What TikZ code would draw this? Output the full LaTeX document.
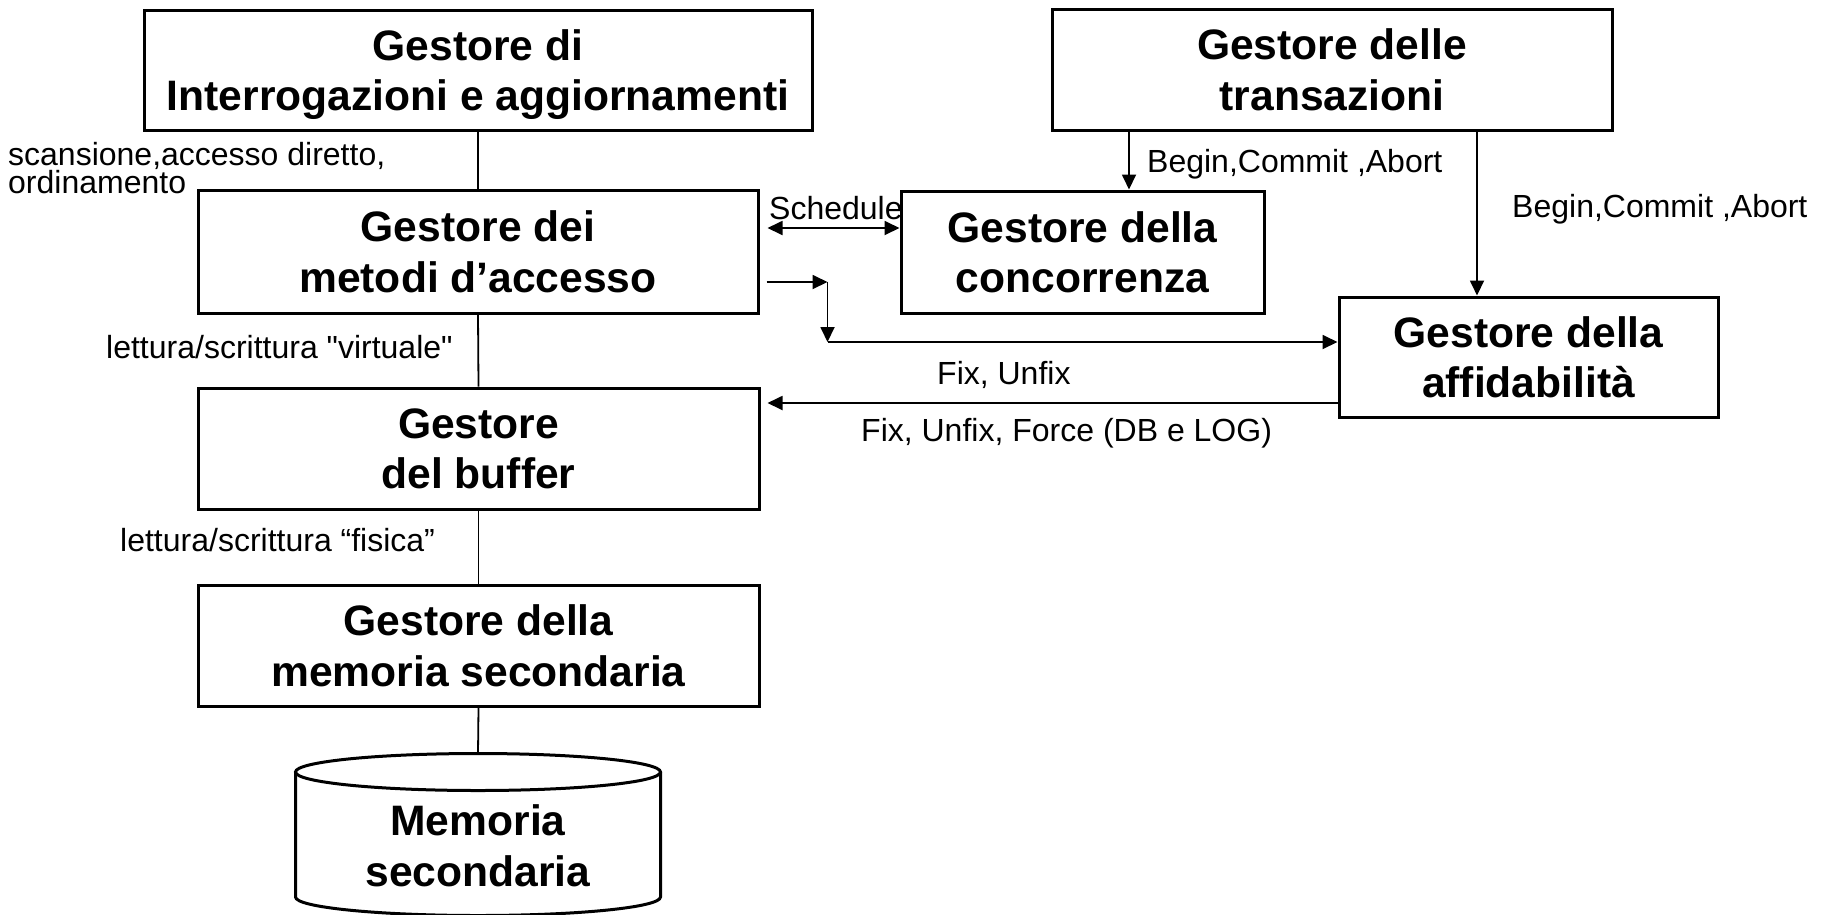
\documentclass[tikz,border=0pt]{standalone}
\usepackage{fontspec}
\setmainfont{Liberation Sans}
% label face without TeX quote mapping, so " stays a straight quote
\newfontfamily\labelface{Liberation Sans}
\usetikzlibrary{arrows.meta}

\begin{document}
\begin{tikzpicture}[x=1pt,y=-1pt,
  box/.style={draw, line width=3pt, inner sep=0pt, align=center, text depth=0pt,
    font=\bfseries\fontsize{42.6}{50.5}\selectfont},
  lbl/.style={inner sep=0pt, anchor=west, align=left,
    font=\labelface\fontsize{32}{28}\selectfont},
  conn/.style={line width=1.8pt},
  arr/.style={conn, -{Triangle[length=15pt,width=14pt]}},
  dbl/.style={conn, {Triangle[length=15pt,width=14pt]}-{Triangle[length=15pt,width=14pt]}}]

\useasboundingbox (0,0) rectangle (1822,914);

% managers
\node[box, minimum width=668pt, minimum height=120pt] (query) at (478,70)
  {Gestore di\\Interrogazioni e aggiornamenti};
\node[box, minimum width=560pt, minimum height=121pt] (trans) at (1332,69.5)
  {Gestore delle\\transazioni};
\node[box, minimum width=560pt, minimum height=123pt] (access) at (478,251.5)
  {Gestore dei\\metodi d’accesso};
\node[box, minimum width=363pt, minimum height=122pt] (conc) at (1082.5,252)
  {Gestore della\\concorrenza};
\node[box, minimum width=379pt, minimum height=120pt] (rel) at (1528.5,357)
  {Gestore della\\affidabilità};
\node[box, minimum width=561pt, minimum height=121pt] (buf) at (478.5,448.5)
  {Gestore\\del buffer};
\node[box, minimum width=561pt, minimum height=121pt] (sec) at (478.5,645.5)
  {Gestore della\\memoria secondaria};

% secondary storage drum
\node[inner sep=0pt, align=center, font=\bfseries\fontsize{42.6}{51}\selectfont]
  (mem) at (478,846) {Memoria\\secondaria};
\coordinate (memtop) at (478,753.5);
\draw[line width=3pt] (295.5,772) -- (295.5,897)
  arc[start angle=180, end angle=360, x radius=182.5pt, y radius=18.5pt]
  -- (660.5,772);
\draw[line width=3pt] (478,772) ellipse [x radius=182.5pt, y radius=18.5pt];

% vertical stack
\draw[conn] (query.south) -- (access.north);
\draw[conn] (access.south) -- (buf.north);
\draw[conn] (buf.south) -- (sec.north);
\draw[conn] (sec.south) -- (memtop);

% schedule exchange
\coordinate (s1) at ([xshift=8pt,yshift=23.5pt]access.east);
\draw[dbl] (s1) -- (s1 -| conc.west);

% access manager to reliability manager
\coordinate (k0) at ([xshift=7pt,yshift=-30.5pt]access.east);
\coordinate (k1) at ([xshift=61pt]k0);
\coordinate (k2) at ([yshift=-60pt]k1);
\draw[arr] (k0) -- (k1);
\draw[arr] (k1) -- (k2);
\draw[arr] (k2) -- (k2 -| rel.west);

% reliability manager to buffer manager
\coordinate (f1) at ([yshift=-46pt]rel.west);
\coordinate (bufr) at ([xshift=7pt]buf.east);
\draw[arr] (f1) -- (bufr |- f1);

% transaction manager commands
\coordinate (t1) at ([xshift=46.5pt]conc.north);
\coordinate (t2) at ([xshift=-51.5pt]rel.north);
\draw[arr] (t1 |- trans.south) -- (t1);
\draw[arr] (t2 |- trans.south) -- (t2);

% labels
\node[lbl] (l1) at (8,168.5) {scansione,accesso diretto,\\ordinamento};
\node[lbl] (l2) at (769,208) {Schedule};
\node[lbl] (l3) at (1147,164) {Begin,Commit ,Abort};
\node[lbl] (l4) at (1512,209) {Begin,Commit ,Abort};
\node[lbl] (l5) at (106,347) {lettura/scrittura "virtuale"};
\node[lbl] (l6) at (937,375) {Fix, Unfix};
\node[lbl] (l7) at (861,433) {Fix, Unfix, Force (DB e LOG)};
\node[lbl] (l8) at (120,540) {lettura/scrittura “fisica”};

\end{tikzpicture}
\end{document}
